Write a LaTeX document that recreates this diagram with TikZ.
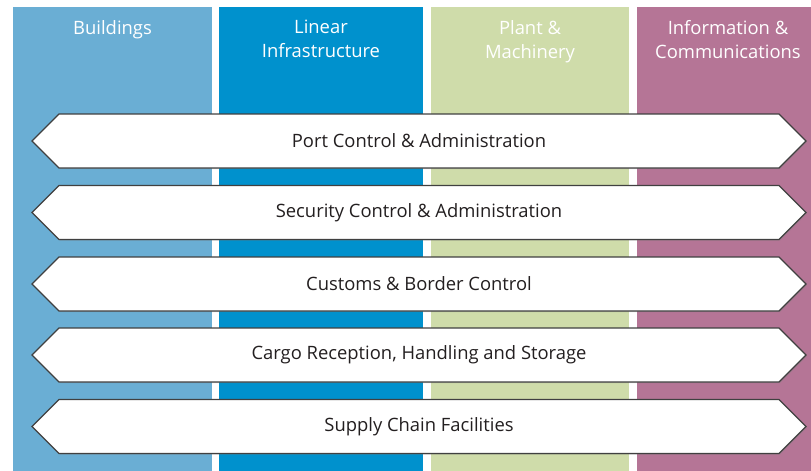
\documentclass[tikz,border=0pt]{standalone}
\usepackage{fontspec}
\setmainfont{Open Sans}
\usetikzlibrary{shapes.symbols,shadows}

\definecolor{colbuild}{HTML}{6AAED4}
\definecolor{collinear}{HTML}{0091CD}
\definecolor{colplant}{HTML}{CFDCAA}
\definecolor{colinfo}{HTML}{B57596}
\definecolor{bandtext}{HTML}{231F20}

\tikzset{
  header/.style={text=white, font=\fontsize{18.4}{24}\selectfont, align=center, anchor=north, inner sep=0pt},
  band/.style={shape=signal, signal to=west and east, signal pointer angle=90,
    minimum width=774pt, minimum height=54pt, inner sep=0pt,
    fill=white, draw=black!75, line width=1.1pt,
    drop shadow={shadow xshift=1pt, shadow yshift=-1pt, opacity=0.35},
    text=bandtext, font=\fontsize{18.4}{20}\selectfont}
}

\begin{document}
\begin{tikzpicture}[x=1pt,y=-1pt]
\useasboundingbox (0,0) rectangle (811,471);

%Columns
\fill[colbuild] (13,7) rectangle (212,471);
\fill[collinear] (219,7) rectangle (423,471);
\fill[colplant] (431,7) rectangle (629,471);
\fill[colinfo] (637,7) rectangle (811,471);

%Headers
\node[header] (buildings) at (112.5,20) {Buildings};
\node[header] (linear) at (321,20) {Linear\\Infrastructure};
\node[header] (plant) at (530,20) {Plant \&\\Machinery};
\node[header] (info) at (728,20) {Information \&\\Communications};

%Bands
\node[band] (port) at (419,141) {Port Control \& Administration};

\node[band] (security) at (419,212.5) {Security Control \& Administration};

\node[band] (customs) at (419,284) {Customs \& Border Control};

\node[band] (cargo) at (419,355) {Cargo Reception, Handling and Storage};

\node[band] (supply) at (419,426.5) {Supply Chain Facilities};
\end{tikzpicture}
\end{document}
